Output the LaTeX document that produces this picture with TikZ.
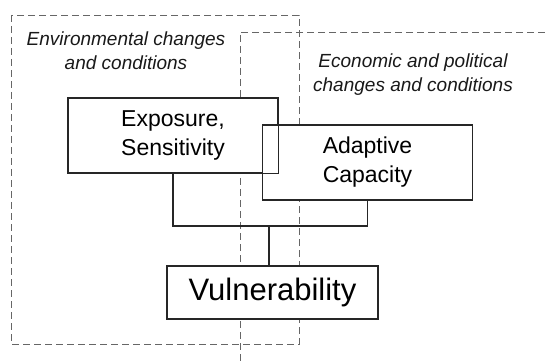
\documentclass[tikz,border=0pt]{standalone}
\usepackage{fontspec}
\setmainfont{Liberation Sans}
\usetikzlibrary{calc}

\begin{document}
\begin{tikzpicture}[x=1pt,y=-1pt,
		zone/.style={draw=black!60, line width=0.9pt, dash pattern=on 7pt off 4pt},
		factor/.style={draw=black!85, line width=1.4pt, fill=white, minimum width=210pt, minimum height=75pt, inner sep=0pt, align=center, font=\fontsize{23}{29}\selectfont},
		link/.style={draw=black!85, line width=1.4pt},
		zonetext/.style={align=center, font=\itshape\fontsize{19}{24}\selectfont, text=black!90}]

		\useasboundingbox (0,0) rectangle (545,363);

		% dashed zones
		\draw[zone] (11,15) rectangle (299,344);
		\draw[zone] (545,32) -- (240,32) -- (240,363);

		\node[zonetext] (envtext) at (126,51) {Environmental changes\\and conditions};
		\node[zonetext] (ecotext) at (413,75) {Economic and political\\changes and conditions};

		% boxes
		\node[factor] (expo) at (173,135.5) {Exposure,\\Sensitivity};
		\node[factor] (adapt) at (367.5,162.5) {Adaptive\\Capacity};
		\draw[link] (expo.south west) rectangle (expo.north east);
		\node[factor, minimum width=211pt, minimum height=53pt, font=\fontsize{31}{36}\selectfont] (vuln) at (272.5,292.5) {Vulnerability};

		% connectors
		\coordinate (joint) at (269,226);
		\draw[link] (expo.south) |- (joint) -| (adapt.south);
		\draw[link] (joint) -- (joint |- vuln.north);

\end{tikzpicture}
\end{document}
